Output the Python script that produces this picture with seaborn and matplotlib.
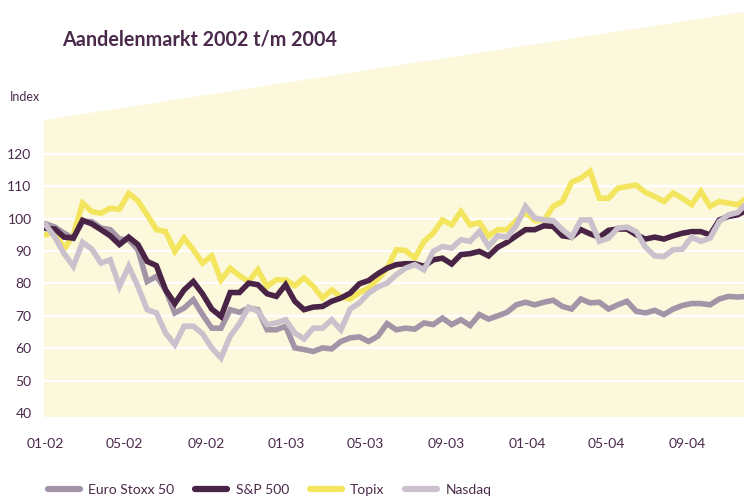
import numpy as np
import pandas as pd
import matplotlib
matplotlib.use("Agg")
import matplotlib.pyplot as plt
import seaborn as sns
from matplotlib.patches import Polygon

# ---------------- data (bi-weekly index values) ----------------
start_date = "2002-01-01"
step_days = 14

euro_stoxx = [98.4, 97.4, 95.5, 94.0, 99.1, 99.1, 97.1, 96.6, 93.7, 93.5,
              90.4, 80.6, 82.2, 78.0, 70.9, 72.4, 75.0, 70.4, 66.2, 66.2,
              71.9, 71.1, 72.4, 71.9, 65.7, 65.7, 66.8, 60.1, 59.6, 59.0,
              60.1, 59.8, 62.1, 63.2, 63.5, 62.1, 63.7, 67.6, 65.7, 66.2,
              65.9, 67.8, 67.3, 69.3, 67.3, 68.8, 67.0, 70.4, 69.0, 70.0,
              71.1, 73.4, 74.2, 73.4, 74.2, 74.8, 72.9, 72.1, 75.2, 74.0,
              74.2, 72.1, 73.4, 74.5, 71.4, 70.9, 71.7, 70.4, 72.1, 73.2,
              73.8, 73.8, 73.4, 75.2, 76.0, 75.8, 76.0]

sp500 = [97.0, 96.8, 94.3, 94.0, 99.5, 98.4, 96.6, 94.7, 92.0, 94.3,
         92.0, 86.8, 85.5, 78.0, 73.8, 78.0, 80.6, 76.8, 72.1, 69.8,
         77.2, 77.2, 80.1, 79.6, 76.8, 76.0, 79.6, 74.5, 71.9, 72.7,
         72.9, 74.5, 75.5, 77.0, 79.9, 80.9, 83.0, 84.7, 85.8, 86.1,
         86.1, 85.3, 87.3, 87.8, 86.0, 88.9, 89.2, 89.9, 88.5, 91.2,
         92.7, 94.7, 96.6, 96.6, 97.8, 97.6, 94.7, 94.3, 96.6, 95.3,
         94.3, 96.4, 96.8, 96.8, 95.0, 93.7, 94.3, 93.7, 94.7, 95.5,
         96.0, 96.0, 95.0, 99.6, 100.7, 101.2, 102.7]

topix = [95.0, 96.0, 90.6, 95.0, 104.8, 102.2, 101.7, 103.2, 102.9, 107.8,
         105.5, 101.2, 96.6, 96.0, 89.9, 94.0, 90.4, 86.3, 88.5, 81.1,
         84.7, 82.4, 80.6, 84.2, 79.1, 81.1, 81.1, 79.3, 81.7, 79.1,
         75.5, 78.0, 75.8, 75.2, 77.2, 78.6, 81.3, 84.7, 90.4, 90.2,
         87.8, 93.0, 95.5, 99.6, 98.1, 102.2, 98.1, 98.8, 94.7, 96.6,
         96.6, 99.4, 101.9, 99.4, 99.4, 103.8, 105.3, 111.2, 112.5, 114.6,
         106.3, 106.3, 109.4, 109.9, 110.4, 108.1, 106.8, 105.3, 107.9, 106.3,
         104.3, 108.4, 103.8, 105.3, 104.8, 104.3, 106.5]

nasdaq = [98.1, 94.3, 89.2, 85.3, 92.7, 90.6, 86.3, 87.3, 79.1, 85.3,
          79.1, 71.9, 70.9, 64.7, 61.1, 66.8, 66.8, 64.5, 60.1, 57.0,
          63.7, 67.6, 72.7, 71.4, 67.3, 67.8, 68.8, 64.7, 62.9, 66.2,
          66.2, 68.8, 65.7, 72.1, 74.0, 77.0, 78.9, 80.1, 82.7, 84.7,
          85.8, 84.2, 89.9, 91.4, 90.9, 93.5, 93.0, 96.0, 91.4, 94.7,
          94.3, 97.8, 103.8, 100.2, 99.6, 99.4, 96.6, 94.3, 99.6, 99.6,
          93.0, 94.0, 97.1, 97.4, 96.0, 91.2, 88.5, 88.3, 90.4, 90.6,
          94.3, 93.0, 94.0, 99.1, 101.2, 101.9, 104.8]

series_names = ["Euro Stoxx 50", "S&P 500", "Topix", "Nasdaq"]
y_ticks = [40, 50, 60, 70, 80, 90, 100, 110, 120]
x_tick_labels = ["01-02", "05-02", "09-02", "01-03", "05-03", "09-03", "01-04", "05-04", "09-04"]

# ---------------- styling ----------------
colors = {"Euro Stoxx 50": "#a494a7", "S&P 500": "#4a2447",
          "Topix": "#f4e55e", "Nasdaq": "#cbc1cd"}
zorders = {"Topix": 3, "Euro Stoxx 50": 4, "S&P 500": 5, "Nasdaq": 6}
text_color = "#4a2a4a"
bg_yellow = "#fcf8dc"

dates = pd.date_range(start_date, periods=len(sp500), freq=f"{step_days}D")
df = pd.DataFrame({"date": dates, "Euro Stoxx 50": euro_stoxx, "S&P 500": sp500,
                   "Topix": topix, "Nasdaq": nasdaq})
long = df.melt(id_vars="date", var_name="index", value_name="value")

sns.set_theme(style="white")
plt.rcParams["font.family"] = ["Lato", "DejaVu Sans"]

fig = plt.figure(figsize=(7.44, 4.96), dpi=100)
ax = fig.add_axes([44 / 744, 79 / 496, 700 / 744, 405 / 496])
ax.set_facecolor("white")

# slanted yellow background
poly = Polygon([(0, 0), (1, 0), (1, 1), (0, (417 - 120) / 405)], closed=True,
               transform=ax.transAxes, facecolor=bg_yellow, edgecolor="none", zorder=0)
ax.add_patch(poly)

for name in ["Topix", "Euro Stoxx 50", "S&P 500", "Nasdaq"]:
    sub = long[long["index"] == name]
    sns.lineplot(data=sub, x="date", y="value", ax=ax, color=colors[name],
                 linewidth=4.0, zorder=zorders[name], label=name, legend=False,
                 solid_joinstyle="miter")

# white horizontal gridlines
for v in y_ticks[1:]:
    ax.axhline(v, color="white", linewidth=1.6, zorder=1)

ax.set_ylim(38.77, 163.8)
x0 = pd.Timestamp("2002-01-01") - pd.Timedelta(days=2.5)
x1 = pd.Timestamp("2002-01-01") + pd.Timedelta(days=1059.5)
ax.set_xlim(x0, x1)

ax.set_yticks(y_ticks)
ax.set_yticklabels([str(v) for v in y_ticks])
tick_dates = pd.date_range("2002-01-01", periods=len(x_tick_labels), freq="4MS")
ax.set_xticks(tick_dates)
ax.set_xticklabels(x_tick_labels)

for s in ax.spines.values():
    s.set_visible(False)
ax.tick_params(axis="y", length=0, pad=9, labelsize=10, labelcolor=text_color)
ax.tick_params(axis="x", length=8, width=1.6, color="#f0de4a", direction="out",
               pad=7, labelsize=10, labelcolor=text_color)
ax.set_xlabel("")
ax.set_ylabel("")

fig.text(62 / 744, 1 - 40 / 496, "Aandelenmarkt 2002 t/m 2004", fontsize=14.2,
         fontweight="bold", color=text_color, va="center", ha="left")
fig.text(10 / 744, 1 - 97 / 496, "Index", fontsize=9, color=text_color,
         va="center", ha="left")

handles, labels = ax.get_legend_handles_labels()
order = [labels.index(n) for n in series_names]
leg = fig.legend([handles[i] for i in order], [labels[i] for i in order],
                 loc="upper left", bbox_to_anchor=(48 / 744, 1 - 484 / 496),
                 ncol=4, frameon=False, fontsize=10, handlelength=2.3,
                 columnspacing=1.5, handletextpad=0.6, borderaxespad=0,
                 borderpad=0)
for t in leg.get_texts():
    t.set_color(text_color)
for h in leg.get_lines():
    h.set_linewidth(4.5)

fig.savefig("out.png", dpi=100)
